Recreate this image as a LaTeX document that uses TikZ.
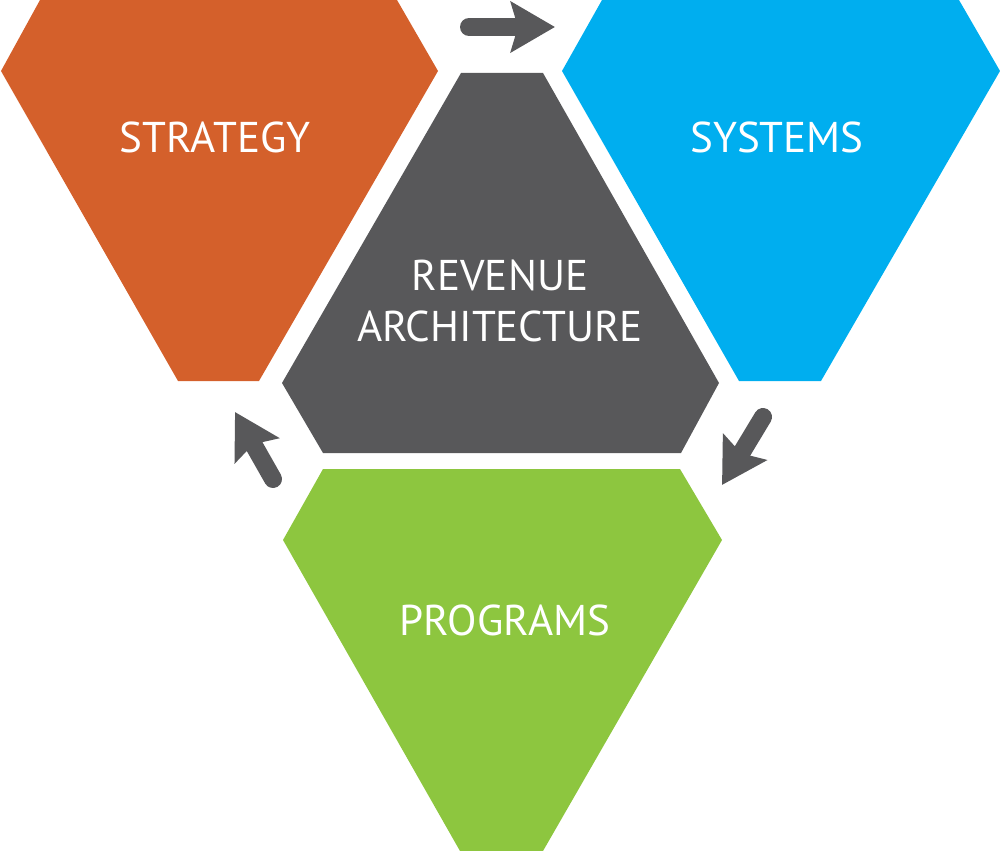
\documentclass[tikz,border=0pt]{standalone}
\usepackage{fontspec}
\setmainfont{PT Sans}
\usetikzlibrary{arrows.meta,positioning}

\definecolor{stratorange}{HTML}{D4602B}
\definecolor{sysblue}{HTML}{00AEEF}
\definecolor{archgrey}{HTML}{58585A}
\definecolor{proggreen}{HTML}{8DC63F}

\begin{document}
\begin{tikzpicture}[x=0.02cm,y=-0.02cm,
    hexlabel/.style={text=white,font=\fontsize{24.5}{29}\selectfont,align=center,inner sep=0pt},
    flow/.style={draw=archgrey,line width=0.36cm,line cap=round,-{Stealth[length=0.88cm,width=1cm,inset=0.14cm]}}]
      \useasboundingbox (0,0) rectangle (1000,851);

      \fill[stratorange] (40,0) -- (397,0) -- (438,71) -- (259,381) -- (178,381) -- (1,71) -- cycle;
      \fill[sysblue] (602,0) -- (959,0) -- (1000,71) -- (821,381) -- (739,381) -- (562,71) -- cycle;
      \fill[archgrey] (461,73) -- (543,73) -- (719,383) -- (681,453) -- (323,453) -- (282,383) -- cycle;
      \fill[proggreen] (323,469) -- (680,469) -- (722,540) -- (543,851) -- (460,851) -- (283,540) -- cycle;

      \node [hexlabel] (strategy) at (215,137) {STRATEGY};
      \node [hexlabel] (systems) at (777,137) {SYSTEMS};
      \node [hexlabel] (revenue) at (500,301) {REVENUE\\ ARCHITECTURE};
      \node [hexlabel] (programs) at (505,620) {PROGRAMS};

      \coordinate (strat-out) at (469,27);
      \coordinate (sys-in) at (555,27);
      \coordinate (sys-out) at (763,417);
      \coordinate (prog-in) at (722,485);
      \coordinate (prog-out) at (273,479);
      \coordinate (strat-in) at (235,412);

      \foreach \a/\b in {strat-out/sys-in,sys-out/prog-in,prog-out/strat-in} {
        \draw[flow] (\a) -- (\b);
      }
  \end{tikzpicture}
\end{document}
